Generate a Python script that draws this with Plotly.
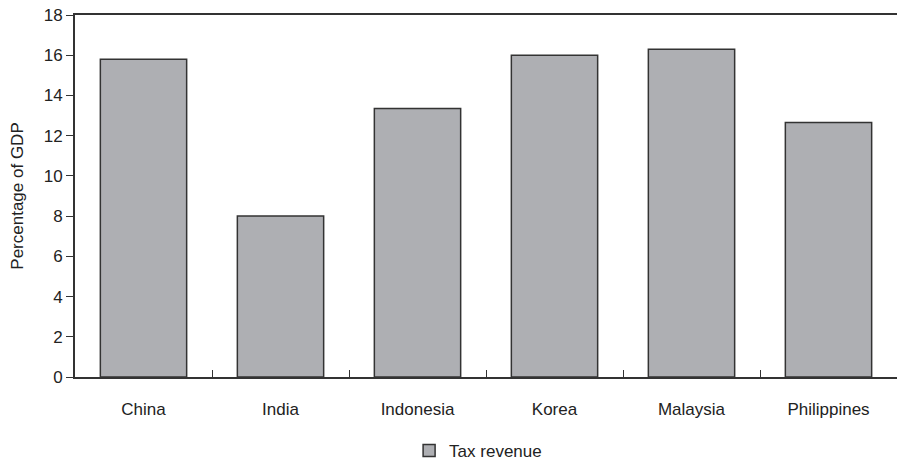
import plotly.graph_objects as go

countries = ["China", "India", "Indonesia", "Korea", "Malaysia", "Philippines"]
tax_revenue = [15.8, 8.0, 13.35, 16.0, 16.3, 12.65]
y_ticks = [0, 2, 4, 6, 8, 10, 12, 14, 16, 18]

fig = go.Figure()
fig.add_trace(go.Bar(
    x=countries, y=tax_revenue, name="Tax revenue",
    marker=dict(color="#AEAFB3", line=dict(color="#333333", width=1.5)),
    width=0.63,
))

font = dict(family="Liberation Sans, Arial, sans-serif", size=17, color="#222222")
fig.update_layout(
    width=897, height=463,
    margin=dict(l=75, r=0, t=15, b=86),
    plot_bgcolor="white", paper_bgcolor="white",
    font=font,
    showlegend=True,
    legend=dict(orientation="h", xref="container", yref="container",
                x=0.533, xanchor="center", y=0.026, yanchor="middle",
                font=font, itemwidth=30),
    xaxis=dict(showline=True, linecolor="#333333", linewidth=2, mirror=True,
               ticks="inside", tickson="boundaries", ticklen=7, tickcolor="#333333",
               ticklabelstandoff=16, tickfont=font, automargin=False),
    yaxis=dict(range=[0, 18], tickvals=y_ticks, showline=True, linecolor="#333333",
               linewidth=2, ticks="outside", ticklen=7, tickcolor="#333333",
               showgrid=False, zeroline=False, tickfont=font, automargin=False,
               title=dict(text="Percentage of GDP", font=font, standoff=16)),
)
fig.write_html("out.html", config={"responsive": False, "displayModeBar": False},
               post_script="document.body.style.margin='0';document.body.style.padding='0';")
